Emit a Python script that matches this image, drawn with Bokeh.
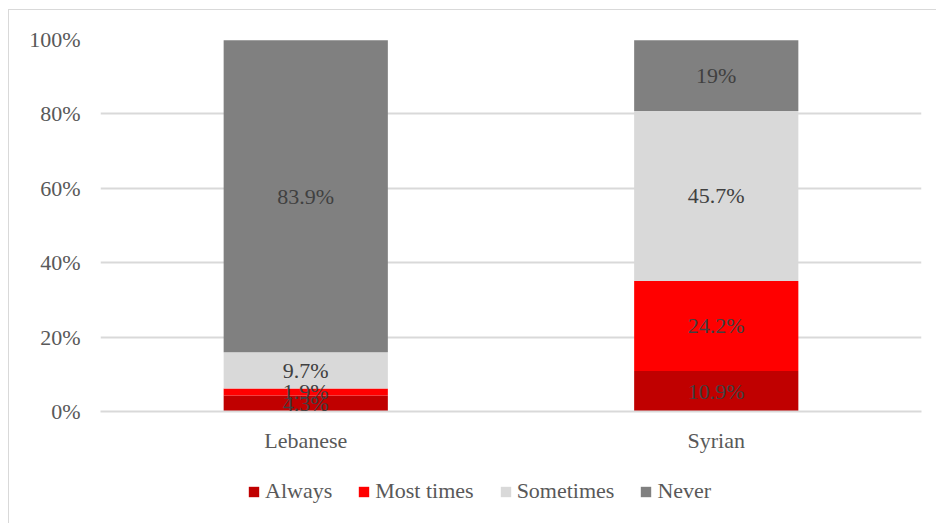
from bokeh.plotting import figure
from bokeh.layouts import column
from bokeh.models import ColumnDataSource, Legend, LegendItem, LabelSet
from bokeh.embed import file_html
from bokeh.resources import INLINE

groups = ["Lebanese", "Syrian"]
responses = ["Always", "Most times", "Sometimes", "Never"]
always = [4.3, 10.9]
most_times = [1.9, 24.2]
sometimes = [9.7, 45.7]
never = [83.9, 19.0]
colors = ["#C00000", "#FF0000", "#D9D9D9", "#808080"]
y_ticks = [0, 20, 40, 60, 80, 100]

FONT = "Liberation Serif"
SIZE = "22px"
TEXT = "#595959"

data = {"group": groups, "Always": always, "Most times": most_times,
        "Sometimes": sometimes, "Never": never}
source = ColumnDataSource(data)

p = figure(x_range=groups, y_range=(0, 100), width=927, height=460,
           output_backend="svg", toolbar_location=None,
           min_border_left=91, min_border_right=15, min_border_top=29,
           min_border_bottom=59)
p.outline_line_color = None

p.vbar_stack(responses, x="group", width=0.4, color=colors,
             line_color=None, source=source)

# segment value labels, centred in each stacked block
lab_x, lab_y, lab_t = [], [], []
for i, g in enumerate(groups):
    base = 0.0
    for series in (always, most_times, sometimes, never):
        v = series[i]
        lab_x.append(g)
        lab_y.append(base + v / 2)
        lab_t.append(f"{v:g}%")
        base += v
lab_src = ColumnDataSource(dict(x=lab_x, y=lab_y, t=lab_t))
p.add_layout(LabelSet(x="x", y="y", text="t", source=lab_src,
                      text_align="center", text_baseline="middle",
                      text_font=FONT, text_font_size=SIZE,
                      text_color="#404040"))

# axes
p.yaxis.ticker = y_ticks
p.yaxis.major_label_overrides = {v: f"{v}%" for v in y_ticks}
p.yaxis.axis_line_color = None
p.yaxis.major_tick_line_color = None
p.yaxis.minor_tick_line_color = None
p.yaxis.major_tick_out = 0
p.yaxis.major_tick_in = 0
p.yaxis.major_label_standoff = 20
p.yaxis.major_label_text_font = FONT
p.yaxis.major_label_text_font_size = SIZE
p.yaxis.major_label_text_color = TEXT

p.xaxis.axis_line_color = "#d9d9d9"
p.xaxis.axis_line_width = 2
p.xaxis.major_tick_line_color = None
p.xaxis.minor_tick_line_color = None
p.xaxis.major_tick_out = 0
p.xaxis.major_tick_in = 0
p.xaxis.major_label_standoff = 16
p.xaxis.major_label_text_font = FONT
p.xaxis.major_label_text_font_size = SIZE
p.xaxis.major_label_text_color = TEXT

p.xgrid.grid_line_color = None
p.ygrid.grid_line_color = "#d9d9d9"
p.ygrid.grid_line_width = 2

# legend strip underneath the chart; its stacked bars are hidden and
# only lend their colours to the legend swatches
lg = figure(width=927, height=53, x_range=groups, y_range=(0, 100),
            output_backend="svg", toolbar_location=None,
            min_border=0, outline_line_color=None)
lg.axis.visible = False
lg.grid.visible = False
swatches = lg.vbar_stack(responses, x="group", width=0.4, color=colors,
                         line_color=None, source=source)
for s in swatches:
    s.visible = False
legend = Legend(items=[LegendItem(label=r, renderers=[s]) for r, s in zip(responses, swatches)],
                orientation="horizontal", location=(147, 19),
                glyph_width=13, glyph_height=13, spacing=25, padding=0,
                margin=0, label_standoff=5,
                label_text_font=FONT, label_text_font_size=SIZE,
                label_text_color=TEXT, border_line_color=None,
                background_fill_alpha=0, inactive_fill_alpha=0)
lg.add_layout(legend)

layout = column(p, lg, spacing=0,
                styles={"margin-left": "8px", "margin-top": "9px",
                        "border-left": "1px solid #d9d9d9",
                        "border-top": "1px solid #d9d9d9"})

open("out.html", "w").write(file_html(layout, INLINE))
